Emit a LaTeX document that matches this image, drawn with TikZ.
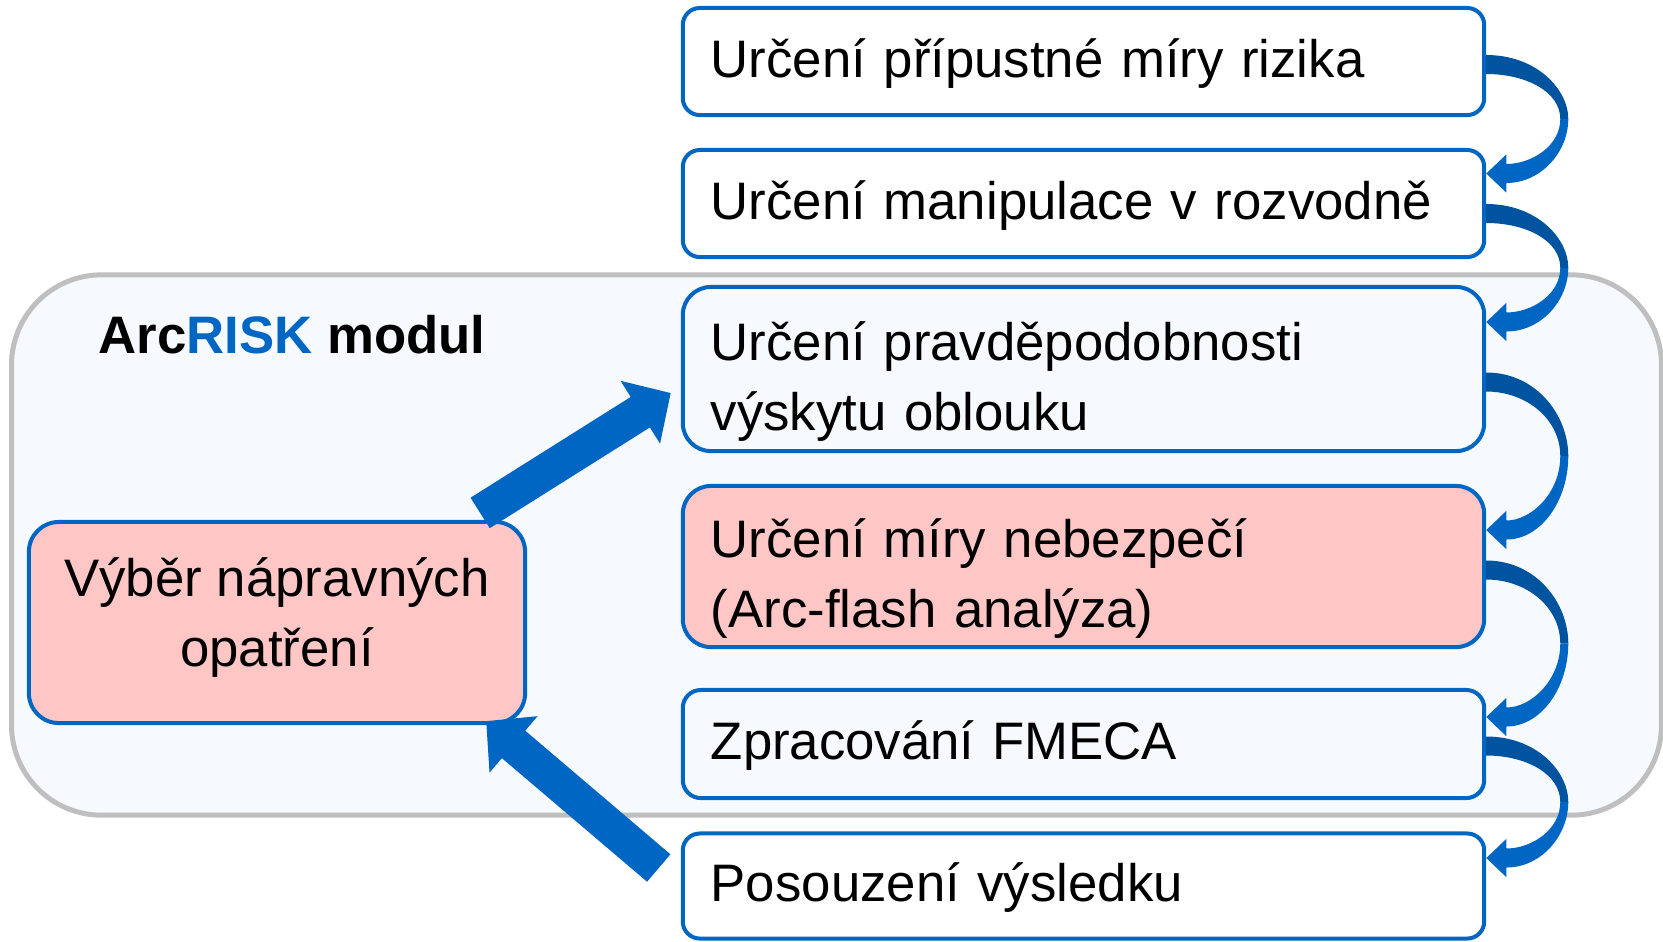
\documentclass[tikz,border=0pt]{standalone}
\usepackage{fontspec}
\setmainfont{Liberation Sans}
\usetikzlibrary{arrows.meta,calc}
\newcommand{\ribbon}[2]{%
  \fill[ribdark] let \p1=(#1), \p2=(#2) in
    (\x1,\y1+0.095cm) .. controls (\x1+0.5cm,\y1+0.095cm) and (\x1+0.82cm,{0.775*\y1+0.225*\y2}) .. (\x1+0.82cm,{0.5*\y1+0.5*\y2})
    -- (\x1+0.74cm,{0.5*\y1+0.5*\y2}) .. controls (\x1+0.74cm,{0.75*\y1+0.25*\y2}) and (\x1+0.4cm,\y1-0.095cm) .. (\x1,\y1-0.095cm) -- cycle;
  \fill[ribblue] let \p1=(#1), \p2=(#2) in
    (\x1+0.82cm,{0.5*\y1+0.5*\y2}) .. controls (\x1+0.82cm,{0.2*\y1+0.8*\y2}) and (\x2+0.55cm,\y2-0.095cm) .. (\x2+0.2cm,\y2-0.095cm)
    -- (\x2+0.2cm,\y2-0.19cm) -- (\x2,\y2) -- (\x2+0.2cm,\y2+0.19cm) -- (\x2+0.2cm,\y2+0.095cm)
    .. controls (\x2+0.45cm,\y2+0.095cm) and (\x1+0.74cm,{0.25*\y1+0.75*\y2}) .. (\x1+0.74cm,{0.5*\y1+0.5*\y2}) -- cycle;
}
\begin{document}
\begin{tikzpicture}[x=0.01cm,y=-0.01cm,
  boxnode/.style={draw=boxblue,line width=0.04cm,minimum width=8.01cm,text width=7.45cm,inner xsep=0.28cm,inner ysep=0pt,align=left,font=\fontsize{15pt}{19.9pt}\selectfont},
  selnode/.style={draw=boxblue,fill=pinkfill,line width=0.04cm,minimum width=4.96cm,minimum height=2.01cm,rounded corners=0.3cm,align=center,font=\fontsize{15pt}{19.9pt}\selectfont},
  modbox/.style={draw=modgrey,fill=modfill,line width=0.05cm,minimum width=16.49cm,minimum height=5.4cm,rounded corners=0.9cm},
  fatarrow/.style={boxblue,line width=0.36cm,-{Triangle[length=0.36cm,width=0.72cm]}}]
\definecolor{boxblue}{HTML}{0066C4}
\definecolor{ribblue}{HTML}{0066C4}
\definecolor{ribdark}{HTML}{00539E}
\definecolor{pinkfill}{HTML}{FFC6C6}
\definecolor{modgrey}{HTML}{BFBFBF}
\definecolor{modfill}{HTML}{F6FAFE}
\useasboundingbox (0,0) rectangle (1663,941);
\node[modbox] (mod) at (836.5,545) {};
\node[anchor=west,inner sep=0pt,font=\fontsize{15pt}{19.9pt}\selectfont\bfseries] (title) at (98,335) {Arc\textcolor{boxblue}{RISK} modul};
  \foreach \nm/\yy/\hh/\rr/\pad/\crlr/\txt in {b1/61.5/1.07/0.17/12/white/{Určení přípustné míry rizika},
    b2/203.5/1.07/0.17/12/white/{Určení manipulace v rozvodně},
    b3/369/1.64/0.28/18/modfill/{Určení pravděpodobnosti\\výskytu oblouku},
    b4/566.5/1.61/0.28/18/pinkfill/{Určení míry nebezpečí\\(Arc-flash analýza)},
    b5/744/1.08/0.18/12/modfill/{Zpracování FMECA},
    b6/886/1.05/0.17/12/white/{Posouzení výsledku}}
  {  \node[boxnode,fill=\crlr,minimum height=\hh cm,rounded corners=\rr cm] (\nm) at (1083.5,\yy) {\rule{0pt}{\pad pt}\txt};}
\node[selnode] (sel) at (277,622.5) {Výběr nápravných\\opatření\rule[-6pt]{0pt}{6pt}};
\draw[fatarrow] ($(sel.north east)+(-47,-7)$) -- ($(b3.west)+(-10,24)$);
\draw[fatarrow] ($(b6.west)+(-22,-18)$) -- ($(sel.south east)+(-41,-4)$);
  \foreach \a/\b/\sa/\sb in {b1/b2/3/-30,b2/b3/10/-47,b3/b4/13/-36.5,b4/b5/3.5/-27,b5/b6/2/-28}
  {  \ribbon{$(\a.east)+(0,\sa)$}{$(\b.east)+(0,\sb)$}}
\end{tikzpicture}
\end{document}
